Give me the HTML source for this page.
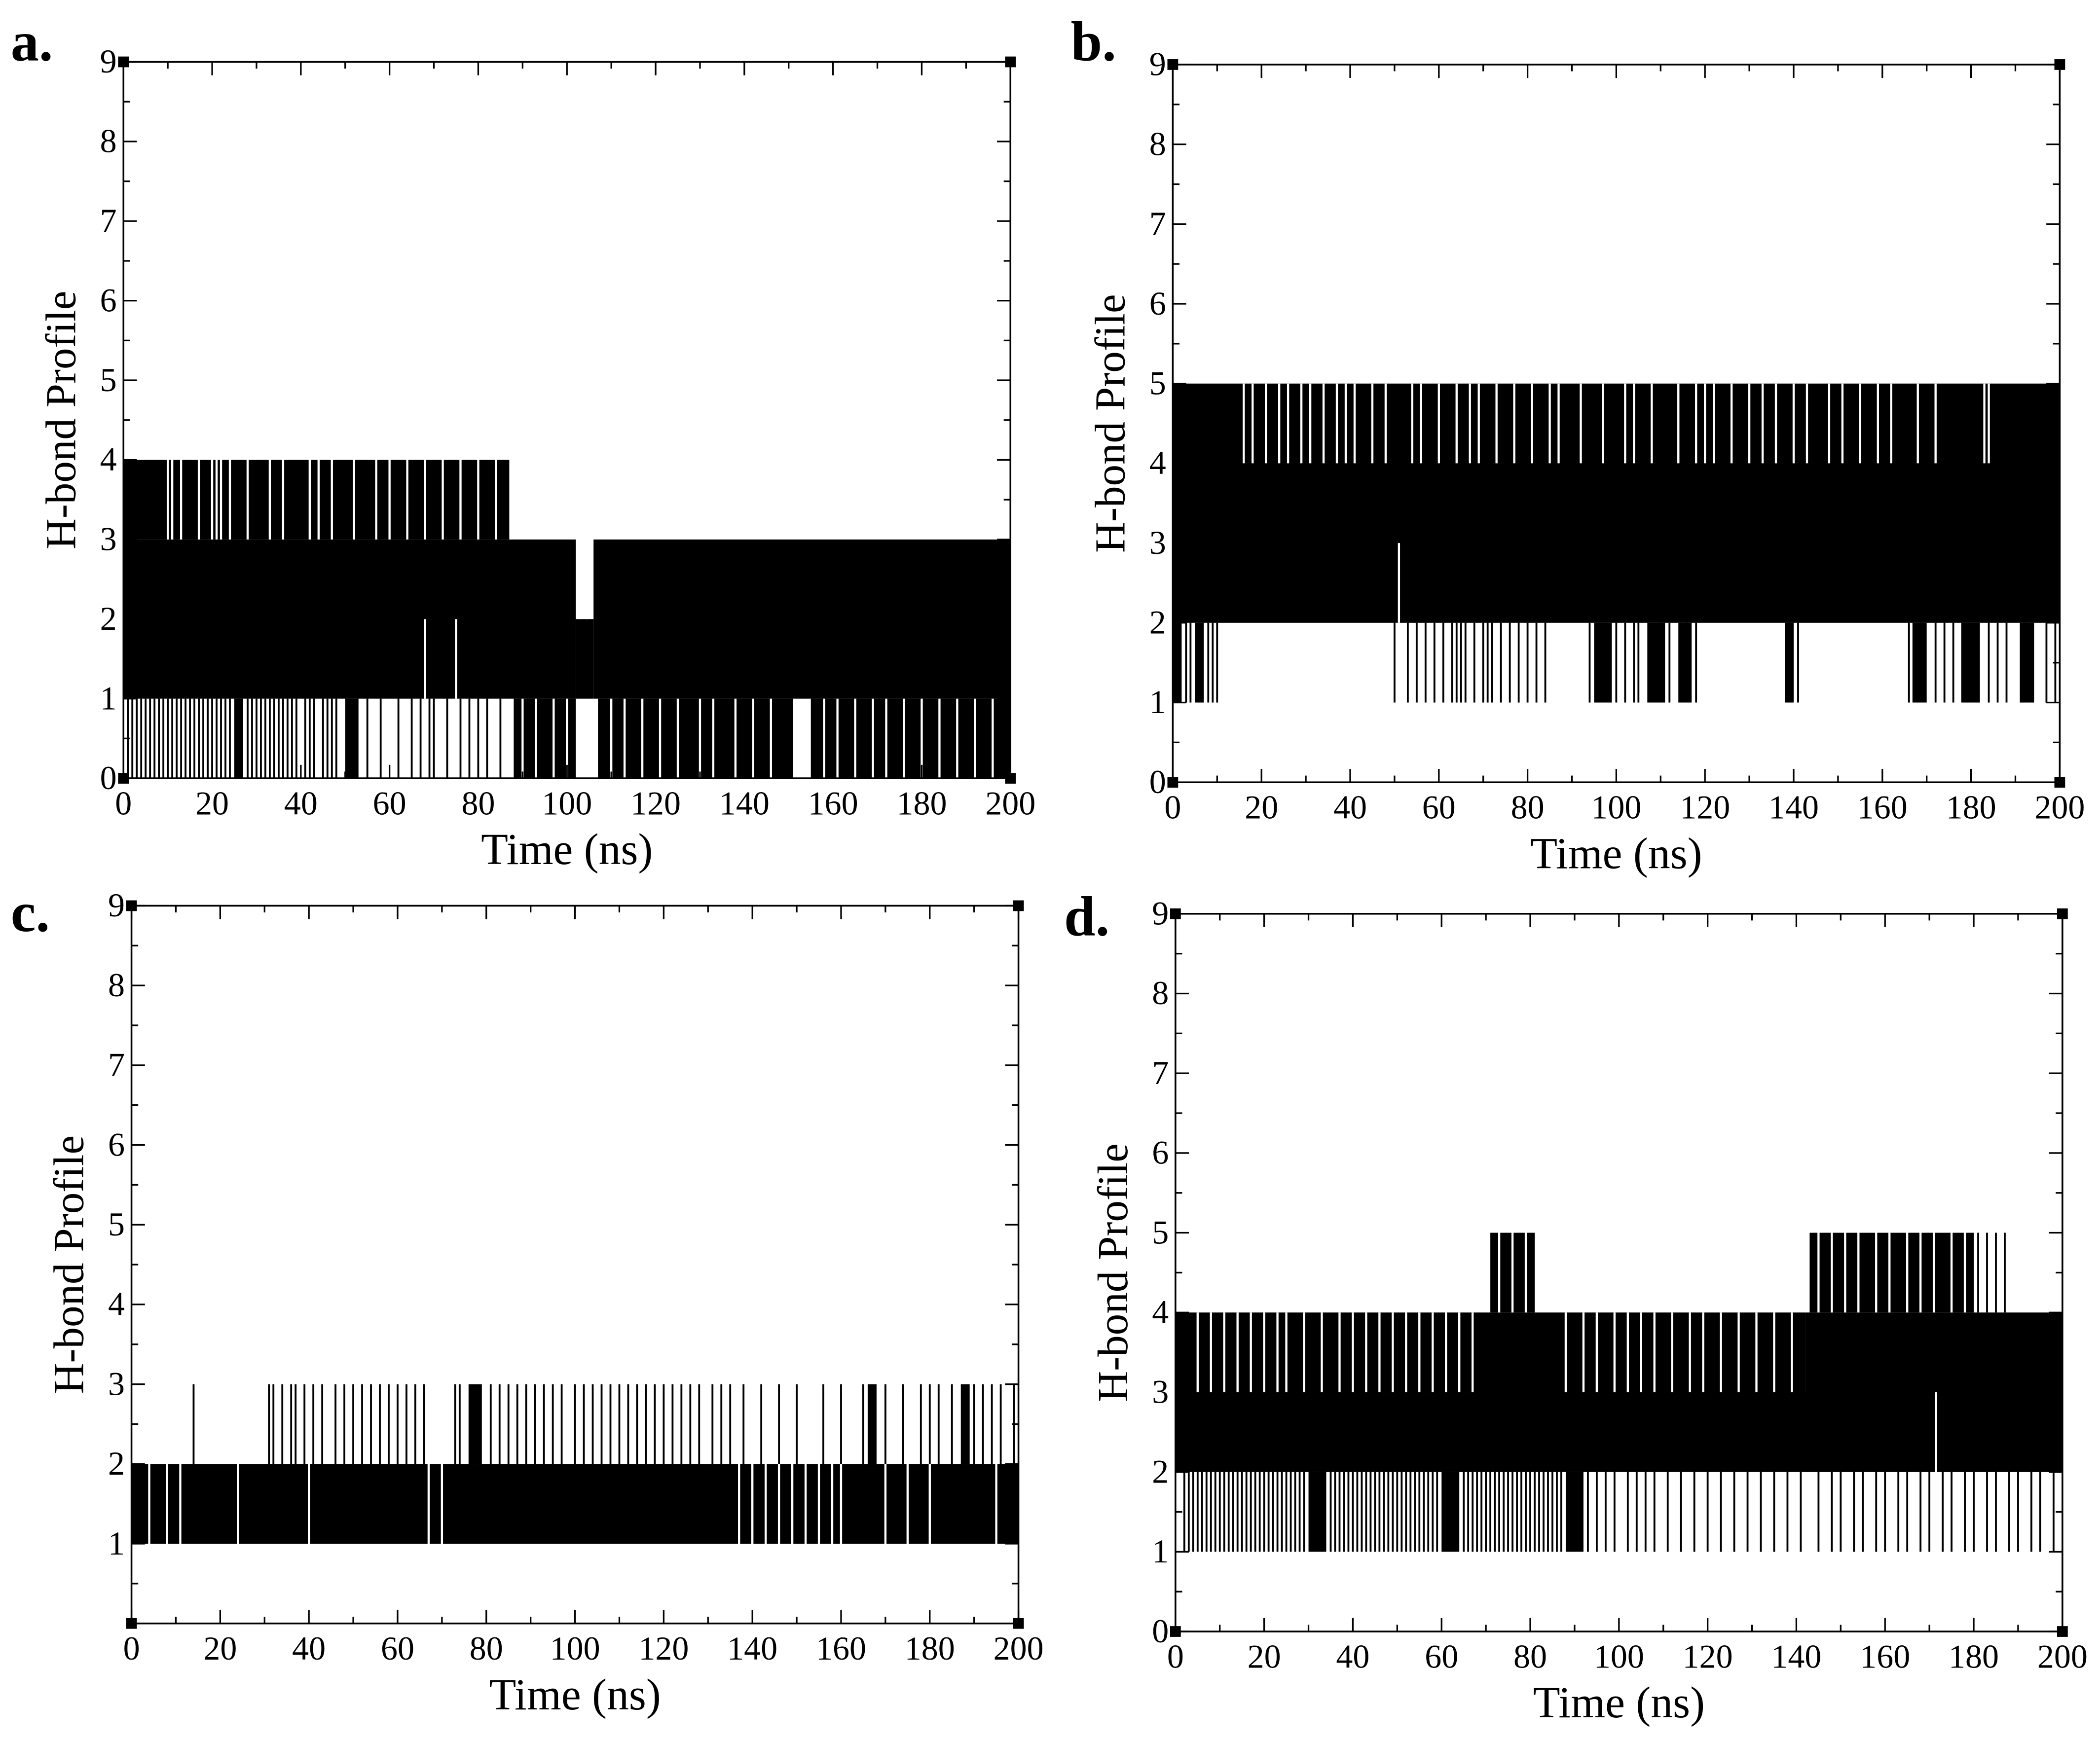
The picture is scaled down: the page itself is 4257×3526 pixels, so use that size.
<!DOCTYPE html>
<html><head><meta charset="utf-8"><style>
html,body{margin:0;padding:0;background:#fff}
svg{display:block}
text{font-family:"Liberation Serif",serif;fill:#000}
</style></head><body>
<svg id="fig" width="4257" height="3526" viewBox="0 0 1565 1296" xmlns="http://www.w3.org/2000/svg">
<rect width="1565" height="1296" fill="#fff"/>
</svg>
<script>
// ---- Panel a data ----
const aBands = [[0,102,1,3],[102,106,1,2],[106,200,1,3],[0,87,3,4],[88,102,0,1],[107,151,0,1],[155,200,0,1],[25,27,0,1],[50,53,0,1]];
const aTopGaps = [10,11,13,17,20,21,22,24,28,33,36,42,44,47,52,57,60,64,68,72,76,80,84];
const aMidGaps = [[68,1,2],[75,1,2],[103,2,3],[104.5,2,3]];
const aLowGaps = [90,93,97,100,110,113,117,121,125,130,133,138,142,146,158,161,165,169,172,176,180,184,188,192,196];
const aSpikes = [1,2,3,4,5,6,7,8,9,10,11,12,13,14,15,16,17,18,19,20,21,22,23,24,28,29,30,31,32,33,34,35,36,37,38,39,41,42,43,45,46,47,48,55,58,62,65,67,69,70,73,76,78,80,82,85];
// ---- Panel b data ----
const bBands = [[0,200,2,5],[0,2,1,2],[5,7,1,2],[95,99,1,2],[107,111,1,2],[114,117,1,2],[138,140,1,2],[167,170,1,2],[178,182,1,2],[191,194,1,2]];
const bTopGaps = [16,18,21,24,26,29,31,34,37,39,41,45,48,54,56,60,64,67,69,73,77,81,85,87,92,97,102,104,108,114,118,120,122,126,130,133,136,140,143,148,151,155,159,162,168,172,183,184];
const bMidGaps = [[51,2,3]];
const bSpikes = [3,4,8,9,10,50,53,55,57,59,61,63,64,65,66,68,70,71,72,74,76,78,80,82,84,94,96,100,102,104,105,110,112,116,118,139,141,166,167,169,172,174,176,178,184,186,188,192,194,197,199];
// ---- Panel c data ----
const cBands = [[0,200,1,2],[76,79,2,3],[166,168,2,3],[187,189,2,3]];
const cMidGaps = [[4,1,2],[8,1,2],[11,1,2],[24,1,2],[40,1,2],[67,1,2],[70,1,2],[137,1,2],[140,1,2],[143,1,2],[146,1,2],[149,1,2],[152,1,2],[155,1,2],[158,1,2],[160,1,2],[170,1,2],[175,1,2],[180,1,2],[195,1,2]];
const cSpikes3 = [14,31,32,34,36,37,39,41,43,46,48,50,52,54,56,58,60,62,64,66,73,74,81,83,85,87,89,91,93,95,97,100,102,104,106,108,110,112,114,116,118,120,122,124,126,128,131,133,135,138,142,146,150,156,160,165,170,174,178,180,182,185,190,192,194,196,199];
// ---- Panel d data ----
const dBands = [[0,200,2,3],[0,142,3,4],[142,200,2,4],[71,81,4,5],[143,180,4,5],[30,34,1,2],[60,64,1,2],[88,92,1,2]];
const dTopGaps = [5,8,11,14,17,20,23,25,29,33,37,40,43,46,49,52,55,58,61,64,67,88,92,95,99,102,105,108,112,116,119,123,127,131,135,139,73,76,79,145,148,151,154,158,161,165,168,171,175,178];
const dMidGaps = [[171.5,2,3]];
const dSpikes5 = [181,183,185,187];
const dSpikes = [2,3,4,5,6,7,8,9,10,11,12,13,14,15,16,17,18,19,20,21,22,23,24,25,26,27,28,29,35,36,37,38,39,40,41,42,43,44,45,46,47,48,49,50,51,52,53,54,55,56,57,58,59,65,66,67,68,69,70,71,72,73,74,75,76,77,78,79,80,81,82,83,84,85,86,87,93,95,97,99,102,104,106,108,111,114,117,120,123,126,129,132,135,138,141,145,148,150,153,155,158,160,163,165,168,170,173,175,178,180,183,185,188,190,193,195,198];

const NS='http://www.w3.org/2000/svg';
const svg=document.getElementById('fig');
function mk(tag,attrs,parent){const e=document.createElementNS(NS,tag);for(const k in attrs)e.setAttribute(k,attrs[k]);(parent||svg).appendChild(e);return e;}

function panel(cfg){
  const g=mk('g',{});
  
  
  const X=t=>cfg.x0+t/200*(cfg.x1-cfg.x0);
  const Y=v=>cfg.y1-v/9*(cfg.y1-cfg.y0);
  cfg.bands.forEach(b=>{
    const r=mk('rect',{x:X(b[0]),y:Y(b[3]),width:X(b[1])-X(b[0]),height:Y(b[2])-Y(b[3]),fill:'#000'},g);
    
    
  });
  (cfg.spikes||[]).forEach(s=>{
    const l=mk('line',{x1:X(s[0]),x2:X(s[0]),y1:Y(s[1]),y2:Y(s[2]),stroke:'#000','stroke-width':1.4},g);
    
    
  });
  (cfg.gaps||[]).forEach(s=>{
    const l=mk('line',{x1:X(s[0]),x2:X(s[0]),y1:Y(s[1]),y2:Y(s[2]),stroke:'#fff','stroke-width':1.6},g);
    
    
  });
  const fr=mk('rect',{x:cfg.x0,y:cfg.y0,width:cfg.x1-cfg.x0,height:cfg.y1-cfg.y0,fill:'none',stroke:'#000','stroke-width':1.3},g);
  
  
  for(let t=0;t<=200;t+=10){
    const L=t%20===0?10:5;
    mk('line',{x1:X(t),x2:X(t),y1:cfg.y1,y2:cfg.y1-L,stroke:'#000','stroke-width':1.2},g);
    mk('line',{x1:X(t),x2:X(t),y1:cfg.y0,y2:cfg.y0+L,stroke:'#000','stroke-width':1.2},g);
    if(t%20===0){
      const tx=mk('text',{x:X(t),y:cfg.y1+27,'text-anchor':'middle','font-size':25},g);
      tx.textContent=t;
      
      
    }
  }
  for(let v=0;v<=9;v+=0.5){
    const L=Number.isInteger(v)?10:5;
    mk('line',{x1:cfg.x0,x2:cfg.x0+L,y1:Y(v),y2:Y(v),stroke:'#000','stroke-width':1.2},g);
    mk('line',{x1:cfg.x1,x2:cfg.x1-L,y1:Y(v),y2:Y(v),stroke:'#000','stroke-width':1.2},g);
    if(Number.isInteger(v)&&!(cfg.hideZero&&v===0)){
      const tx=mk('text',{x:cfg.x0-5,y:Y(v)+8,'text-anchor':'end','font-size':25},g);
      tx.textContent=v;
      
      
    }
  }
  [[cfg.x0,cfg.y0],[cfg.x1,cfg.y0],[cfg.x0,cfg.y1],[cfg.x1,cfg.y1]].forEach(p=>{
    mk('rect',{x:p[0]-4,y:p[1]-4,width:8,height:8,fill:'#000'},g);
  });
  const xt=mk('text',{x:(cfg.x0+cfg.x1)/2,y:cfg.y1+64,'text-anchor':'middle','font-size':33},g);
  xt.textContent='Time (ns)';
  
  
  const yc=(cfg.y0+cfg.y1)/2;
  const yt=mk('text',{x:cfg.x0-36,y:yc,'text-anchor':'middle','font-size':32,transform:`rotate(-90 ${cfg.x0-36} ${yc})`},g);
  yt.textContent='H-bond Profile';
  
  
  const lb=mk('text',{x:cfg.lx,y:cfg.ly,'font-size':42,'font-weight':'bold'},g);
  lb.textContent=cfg.id+'.';
  
  
}

panel({id:'a',x0:92,x1:753,y0:46,y1:580,lx:8,ly:45,
  bands:aBands,
  spikes:aSpikes.map(t=>[t,0,1]),
  gaps:aTopGaps.map(t=>[t,3,4]).concat(aMidGaps).concat(aLowGaps.map(t=>[t,0,1]))});
panel({id:'b',x0:874,x1:1535,y0:48,y1:583,lx:798,ly:45,
  bands:bBands,
  spikes:bSpikes.map(t=>[t,1,2]),
  gaps:bTopGaps.map(t=>[t,4,5]).concat(bMidGaps)});
panel({id:'c',x0:98,x1:759,y0:675,y1:1210,lx:8,ly:694,hideZero:true,
  bands:cBands,
  spikes:cSpikes3.map(t=>[t,2,3]),
  gaps:cMidGaps});
panel({id:'d',x0:876,x1:1537,y0:681,y1:1216,lx:793,ly:697,
  bands:dBands,
  spikes:dSpikes.map(t=>[t,1,2]).concat(dSpikes5.map(t=>[t,4,5])),
  gaps:dTopGaps.map(t=>t>142&&t<181?[t,4,5]:(t>70&&t<82?[t,4,5]:[t,3,4])).concat(dMidGaps)});
</script>
</body></html>
